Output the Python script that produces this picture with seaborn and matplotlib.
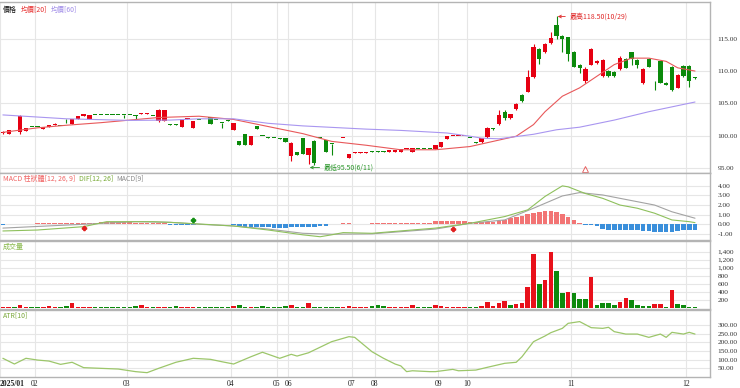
import numpy as np
import matplotlib
matplotlib.use("Agg")
import matplotlib.pyplot as plt
import seaborn as sns

sns.set_theme(style="white")
plt.rcParams["font.family"] = ["Noto Sans CJK TC", "DejaVu Sans"]
plt.rcParams["axes.unicode_minus"] = False

# ---- daily candles (2025/01 .. 2025/12, trading days only) ----
opens = [100.4, 100.3, 100.85, 100.5, 100.7, 101.35, 101.35, 101.0, 101.4, 101.7,
         101.55, 102.0, 101.8, 102.5, 103.0, 102.5, 103.25, 103.25, 103.25, 103.25,
         103.25, 103.25, 103.25, 103.15, 103.35, 103.35, 103.05, 102.2, 102.3, 101.75,
         101.75, 101.4, 102.6, 101.2, 102.45, 102.55, 102.9, 102.45, 102.0, 102.35,
         100.9, 99.1, 100.3, 98.6, 101.5, 99.95, 99.75, 99.65, 99.55, 99.6,
         96.9, 97.4, 99.7, 97.0, 99.2, 99.65, 99.3, 98.75, 98.05, 99.65,
         96.6, 97.35, 97.35, 97.35, 97.55, 97.55, 97.55, 97.5, 97.5, 97.5,
         97.95, 97.5, 97.95, 97.95, 97.95, 97.9, 98.3, 99.5, 99.9, 99.9,
         99.9, 99.65, 98.95, 99.0, 99.8, 101.05, 101.8, 103.7, 102.7, 104.1,
         106.3, 106.8, 109.0, 113.4, 112.9, 114.3, 117.2, 115.5, 115.2, 113.0,
         111.0, 108.4, 111.0, 111.2, 109.2, 110.0, 109.9, 110.3, 111.9, 112.9,
         111.7, 108.1, 111.9, 108.45, 111.5, 108.2, 110.7, 107.4, 110.8, 110.8,
         108.95]
highs = [100.7, 100.9, 100.85, 103.2, 101.2, 101.35, 101.35, 101.4, 101.7, 101.9,
         101.55, 102.6, 102.5, 103.0, 103.4, 103.2, 103.25, 103.25, 103.25, 103.25,
         103.25, 103.25, 103.25, 103.15, 103.5, 103.5, 103.05, 104.1, 104.0, 101.75,
         101.75, 102.6, 102.8, 102.3, 102.45, 102.55, 102.9, 102.45, 102.0, 102.35,
         102.0, 99.1, 100.3, 100.0, 101.5, 99.95, 99.75, 99.65, 99.55, 99.6,
         99.0, 97.4, 99.7, 98.1, 99.3, 99.65, 99.3, 98.75, 98.05, 99.7,
         97.2, 97.4, 97.4, 97.4, 97.55, 97.55, 97.55, 97.8, 97.8, 97.9,
         98.0, 98.0, 97.95, 97.95, 97.95, 98.5, 99.0, 99.9, 99.95, 99.95,
         99.95, 99.65, 98.95, 99.7, 101.3, 101.1, 103.9, 103.9, 103.4, 105.0,
         106.5, 110.2, 114.2, 113.5, 114.4, 116.1, 118.5, 115.6, 115.3, 113.1,
         111.1, 110.6, 113.5, 111.7, 111.8, 110.1, 110.0, 112.4, 112.0, 113.0,
         111.8, 110.4, 112.0, 108.5, 111.6, 108.3, 110.8, 109.5, 110.9, 110.9,
         109.0]
lows = [100.3, 100.2, 100.8, 100.3, 100.7, 101.3, 101.3, 101.0, 101.4, 101.7,
        101.5, 101.9, 101.8, 102.5, 103.0, 102.5, 103.2, 103.2, 103.2, 103.2,
        103.2, 102.8, 103.2, 102.6, 103.3, 103.3, 103.0, 102.1, 102.2, 101.7,
        101.7, 101.4, 102.6, 101.2, 102.4, 102.5, 101.8, 102.4, 101.2, 102.3,
        100.9, 98.6, 98.6, 98.6, 101.0, 99.9, 99.7, 99.6, 99.5, 99.0,
        96.0, 97.0, 97.1, 95.6, 95.5, 99.6, 97.5, 97.0, 98.0, 99.65,
        96.6, 97.35, 97.35, 97.35, 97.5, 97.5, 97.5, 97.5, 97.5, 97.5,
        97.95, 97.5, 97.9, 97.9, 97.9, 97.9, 98.3, 99.5, 99.9, 99.9,
        99.9, 99.6, 98.9, 98.9, 99.7, 100.9, 101.7, 102.4, 102.6, 104.0,
        105.2, 106.7, 108.9, 111.1, 112.8, 114.2, 115.0, 112.9, 111.5, 110.6,
        109.7, 108.2, 110.9, 111.1, 109.1, 109.0, 109.0, 110.2, 110.4, 111.0,
        110.5, 108.0, 110.6, 107.0, 108.1, 107.8, 106.9, 107.3, 109.1, 107.5,
        108.8]
closes = [100.6, 100.8, 100.8, 103.0, 101.2, 101.3, 101.3, 101.4, 101.7, 101.85,
          101.5, 101.9, 102.5, 103.0, 103.4, 103.2, 103.2, 103.2, 103.2, 103.2,
          103.2, 103.2, 103.2, 103.1, 103.4, 103.4, 103.0, 104.0, 103.9, 101.7,
          101.7, 102.6, 102.8, 102.3, 102.4, 102.5, 101.8, 102.4, 101.95, 102.3,
          102.0, 98.6, 98.6, 100.0, 101.0, 99.9, 99.7, 99.6, 99.5, 99.0,
          98.9, 97.0, 97.1, 98.1, 95.7, 99.6, 97.5, 98.7, 98.0, 99.7,
          97.2, 97.4, 97.4, 97.4, 97.5, 97.5, 97.5, 97.8, 97.8, 97.9,
          98.0, 98.0, 97.9, 97.9, 97.9, 98.5, 99.0, 99.9, 99.95, 99.95,
          99.95, 99.6, 98.9, 99.6, 101.1, 101.0, 103.2, 102.7, 103.3, 104.9,
          105.4, 109.0, 113.8, 111.9, 114.2, 115.1, 115.4, 115.0, 112.7, 110.7,
          110.5, 110.3, 113.4, 111.6, 111.7, 109.3, 109.3, 112.0, 110.5, 111.9,
          111.0, 110.3, 110.7, 108.4, 108.2, 107.9, 107.0, 109.4, 109.2, 108.4,
          108.9]
volume = [30, 25, 30, 85, 25, 30, 25, 30, 40, 25,
          30, 50, 120, 30, 30, 25, 25, 30, 25, 30,
          25, 30, 25, 40, 65, 30, 25, 30, 25, 30,
          40, 25, 30, 25, 30, 25, 30, 25, 30, 25,
          60, 75, 30, 25, 30, 40, 25, 30, 25, 40,
          85, 30, 25, 125, 30, 25, 30, 25, 30, 25,
          40, 25, 30, 25, 40, 65, 40, 25, 25, 25,
          25, 65, 25, 25, 25, 65, 40, 30, 25, 30,
          25, 30, 30, 60, 140, 40, 130, 180, 80, 110,
          130, 520, 1350, 600, 700, 1400, 920, 380, 400, 380,
          220, 220, 780, 80, 130, 130, 80, 160, 250, 200,
          70, 50, 40, 100, 100, 30, 440, 90, 80, 30,
          20]
# colour of each volume bar as drawn (r = red, g = green)
volume_color = list("rrgrrggrrr" "ggrrrrgggg" "ggggrrgrrg" "grrrgggggg"
                    "rggrgggggg" "rggrgggggr" "rrrrgggrrr" "rrgggrrrrr"
                    "rggrrrrrgr" "rrrgrrggrg" "ggrggggrrg" "gggrrgrggg" "g")

# ---- moving averages (read at sampled days) ----
ma20_idx = [0, 6, 11, 17, 22, 27, 34, 40, 46, 52, 57, 63, 69, 75, 81, 83, 86, 89,
            92, 94, 97, 100, 103, 106, 109, 112, 115, 117, 120]
ma20_val = [100.5, 101.2, 101.6, 102.0, 102.4, 102.8, 103.0, 102.5, 101.4, 100.3,
            99.1, 98.5, 97.8, 97.8, 98.3, 98.7, 99.3, 99.9, 101.7, 103.7, 106.1,
            107.4, 109.2, 111.0, 112.0, 112.0, 111.5, 110.5, 110.0]
ma60_idx = [0, 11, 22, 29, 34, 40, 46, 52, 63, 69, 77, 81, 83, 86, 89, 92, 96,
            100, 106, 112, 120]
ma60_val = [103.2, 102.6, 102.35, 102.4, 102.6, 102.6, 101.9, 101.5, 101.0, 100.8,
            100.4, 99.9, 99.6, 99.5, 99.85, 100.2, 100.9, 101.3, 102.4, 103.7, 105.2]

# ---- MACD ----
macd_hist = [-0.04, 0.03, 0.03, 0.03, 0.03, 0.03,
             0.08, 0.08, 0.08, 0.08, 0.08, 0.08, 0.08, 0.08,
             0.12, 0.15, 0.18, 0.2, 0.2, 0.2, 0.2, 0.2, 0.2, 0.18, 0.18, 0.16,
             0.1, 0.1, 0.08,
             -0.12, -0.12, -0.12, -0.12, -0.1,
             0.02, 0.02, 0.02, 0.02, 0.02, 0.02,
             -0.12, -0.2, -0.25, -0.3, -0.3, -0.32, -0.33, -0.35, -0.35, -0.35,
             -0.33, -0.3, -0.3, -0.28, -0.25, -0.2, -0.15,
             0.05, 0.06, 0.12, 0.08, 0.06, 0.06, 0.06,
             0.08, 0.08, 0.08, 0.08, 0.08, 0.08, 0.08, 0.08, 0.08, 0.08, 0.08,
             0.3, 0.32, 0.33, 0.33, 0.32, 0.3,
             0.22, 0.2, 0.2, 0.22, 0.28, 0.35,
             0.45, 0.6, 0.75, 0.9, 1.05, 1.2, 1.3, 1.35, 1.35, 1.3, 1.05, 0.75, 0.4, 0.15,
             -0.08, -0.08, -0.2, -0.45, -0.62, -0.65, -0.65, -0.65, -0.65, -0.65,
             -0.7, -0.7, -0.8, -0.8, -0.82, -0.8, -0.7, -0.6, -0.55, -0.55]
dif_idx = [0, 6, 14, 18, 26, 29, 34, 40, 46, 52, 55, 57, 59, 64, 75, 81, 87, 91,
           94, 97, 98, 101, 104, 107, 110, 113, 116, 119, 120]
dif_val = [-0.7, -0.6, -0.25, 0.27, 0.27, 0.2, 0.03, -0.18, -0.6, -1.1, -1.3, -1.1,
           -0.87, -0.94, -0.4, 0.1, 0.8, 1.5, 2.9, 4.0, 3.9, 3.2, 2.7, 2.0, 1.67,
           1.15, 0.45, 0.27, 0.17]
sig_idx = [0, 14, 23, 29, 34, 40, 46, 52, 57, 64, 75, 81, 87, 92, 97, 100, 104,
           110, 113, 116, 120]
sig_val = [-0.4, 0.0, 0.27, 0.2, 0.0, -0.18, -0.5, -0.94, -1.04, -1.0, -0.5, 0.1,
           0.45, 1.67, 2.95, 3.3, 3.05, 2.35, 2.0, 1.3, 0.63]
cross_up = [14, 78]
cross_down = [33]

# ---- ATR[10] ----
atr_idx = [0, 2, 4, 6, 8, 10, 12, 14, 17, 20, 23, 25, 27, 30, 33, 36, 38, 40, 43,
           45, 48, 50, 51, 53, 57, 60, 61, 64, 66, 68, 69, 70, 71, 74, 75, 78, 79,
           82, 84, 87, 89, 90, 92, 94, 95, 97, 98, 100, 102, 104, 105, 106, 108,
           110, 112, 114, 115, 116, 118, 119, 120]
atr_val = [108, 75, 108, 98, 92, 73, 85, 54, 50, 46, 31, 25, 50, 85, 108, 102, 88,
           75, 117, 143, 108, 131, 121, 140, 204, 233, 229, 146, 108, 75, 64, 31,
           36, 31, 31, 44, 36, 40, 56, 79, 85, 117, 204, 237, 256, 281, 310, 320,
           285, 281, 287, 262, 248, 248, 229, 248, 229, 258, 248, 258, 248]

# month start (first trading day index) and labels
month_first = [0, 6, 22, 40, 48, 50, 61, 65, 76, 81, 99, 119]
month_labels = ["2025/01", "02", "03", "04", "05", "06", "07", "08", "09", "10", "11", "12"]

high_point = (96, 118.5, "最高118.50(10/29)")
low_point = (54, 95.5, "最低95.50(6/11)")

# ---- styling ----
RED = "#e60012"
GREEN = "#0b8a0b"
GRID = "#e6e6e6"
SPINE = "#b4b4b4"
TICKFONT = dict(fontsize=5.3, fontfamily="Liberation Serif", color="#333333")

N = len(closes)
x = np.arange(N)
o = np.array(opens)
c = np.array(closes)
up = c >= o
cols = np.where(up, RED, GREEN)

fig = plt.figure(figsize=(7.4, 3.88), dpi=100)
W = 710 / 740
ax_p = fig.add_axes([0, 1 - 173 / 388, W, 171 / 388])
ax_m = fig.add_axes([0, 1 - 240 / 388, W, 67 / 388])
ax_v = fig.add_axes([0, 1 - 309 / 388, W, 68 / 388])
ax_a = fig.add_axes([0, 1 - 377 / 388, W, 67 / 388])
axes = [ax_p, ax_m, ax_v, ax_a]

grid_pos = [m - 0.5 for m in month_first]
for ax in axes:
    ax.set_xlim(-0.25, 122.6)
    ax.set_xticks(grid_pos)
    ax.grid(True, color=GRID, lw=0.8)
    ax.set_axisbelow(True)
    ax.yaxis.tick_right()
    ax.tick_params(axis="both", length=0, pad=5.5)
    ax.tick_params(axis="x", labelbottom=False)
    for side, sp in ax.spines.items():
        sp.set_color(SPINE)
        sp.set_linewidth(1.0)
    ax.spines["left"].set_visible(False)
    ax.set_facecolor("white")


def label_row(ax, parts):
    t = ax.text(0.004, 0.975, parts[0][0], color=parts[0][1], fontsize=5,
                transform=ax.transAxes, va="top", ha="left")
    for s, col in parts[1:]:
        t = ax.annotate(s, xy=(1, 0), xycoords=t, xytext=(2.5, 0),
                        textcoords="offset points", va="bottom", ha="left",
                        color=col, fontsize=5)


# price panel
body_lo = np.minimum(o, c)
body_h = np.maximum(np.abs(c - o), 0.12)
ax_p.vlines(x, lows, highs, colors=cols, lw=0.8, zorder=2)
ax_p.bar(x, body_h, bottom=body_lo, width=0.74, color=cols, lw=0, zorder=3)
sns.lineplot(x=ma20_idx, y=ma20_val, ax=ax_p, color="#e8585a", lw=0.8, zorder=4)
sns.lineplot(x=ma60_idx, y=ma60_val, ax=ax_p, color="#a996f0", lw=0.8, zorder=4)
ax_p.set_ylim(94.2, 120.7)
ax_p.set_yticks([95, 100, 105, 110, 115], [f"{v:.2f}" for v in [95, 100, 105, 110, 115]], **TICKFONT)
ax_p.annotate(high_point[2], xy=(high_point[0] + 0.2, high_point[1] - 0.05),
              xytext=(high_point[0] + 2.2, high_point[1] - 0.05), textcoords="data",
              va="center", ha="left", fontsize=5, color="#e02828",
              arrowprops=dict(arrowstyle="->", color="#e02828", lw=0.6,
                              shrinkA=0.5, shrinkB=0))
ax_p.annotate(low_point[2], xy=(low_point[0] - 0.8, low_point[1] - 0.45),
              xytext=(low_point[0] + 1.6, low_point[1] - 0.45), textcoords="data",
              va="center", ha="left", fontsize=5, color="#2a962a",
              arrowprops=dict(arrowstyle="->", color="#2a962a", lw=0.6,
                              shrinkA=0.5, shrinkB=0))
ax_p.plot([101], [94.75], marker="^", ms=4, mfc="none", mec="#e85050", mew=0.6, ls="none")
ax_p.set_ylabel("")
label_row(ax_p, [("價格", "#111111"), ("均價[20]", "#e83030"), ("均價[60]", "#a08ce8")])

# MACD panel
hist = np.array(macd_hist)
ax_m.bar(x, hist, width=0.8, color=np.where(hist >= 0, "#f27474", "#3a8fdb"), lw=0, zorder=2)
sns.lineplot(x=sig_idx, y=sig_val, ax=ax_m, color="#a3a3a3", lw=0.8, zorder=3)
sns.lineplot(x=dif_idx, y=dif_val, ax=ax_m, color="#8ec05c", lw=0.8, zorder=3)
ax_m.plot(cross_up, [-0.38, -0.45], ls="none", marker="P", ms=3, color="#e02020", zorder=4)
ax_m.plot(cross_down, [0.45], ls="none", marker="P", ms=3, color="#159015", zorder=4)
ax_m.set_ylim(-1.64, 5.34)
mt = [-1, 0, 1, 2, 3, 4]
ax_m.set_yticks(mt, [f"{v:.2f}" for v in mt], **TICKFONT)
ax_m.set_ylabel("")
label_row(ax_m, [("MACD 柱狀體[12, 26, 9]", "#f06262"), ("DIF[12, 26]", "#78aa36"),
                 ("MACD[9]", "#8a8a8a")])

# volume panel
vcols = ["#e8101a" if v == "r" else "#0d8a0d" for v in volume_color]
ax_v.bar(x, volume, width=0.78, color=vcols, lw=0, zorder=2)
ax_v.set_ylim(-25, 1662)
vt = [200, 400, 600, 800, 1000, 1200, 1400]
ax_v.set_yticks(vt, [f"{v:,}" for v in vt], **TICKFONT)
label_row(ax_v, [("成交量", "#86b848")])

# ATR panel
sns.lineplot(x=atr_idx, y=atr_val, ax=ax_a, color="#9cc66a", lw=0.9, zorder=3)
ax_a.set_ylim(0, 387)
at = [50, 100, 150, 200, 250, 300]
ax_a.set_yticks(at, [f"{v:.2f}" for v in at], **TICKFONT)
ax_a.set_ylabel("")
label_row(ax_a, [("ATR[10]", "#7aa83a")])

ax_a.tick_params(axis="x", labelbottom=True, pad=2)
ax_a.set_xticks(grid_pos, month_labels, fontsize=5.5, fontfamily="Liberation Serif", color="#222222")
xl = ax_a.get_xticklabels()
xl[0].set_ha("left")
xl[0].set_fontweight("bold")

fig.savefig("out.png", dpi=100, facecolor="white")
